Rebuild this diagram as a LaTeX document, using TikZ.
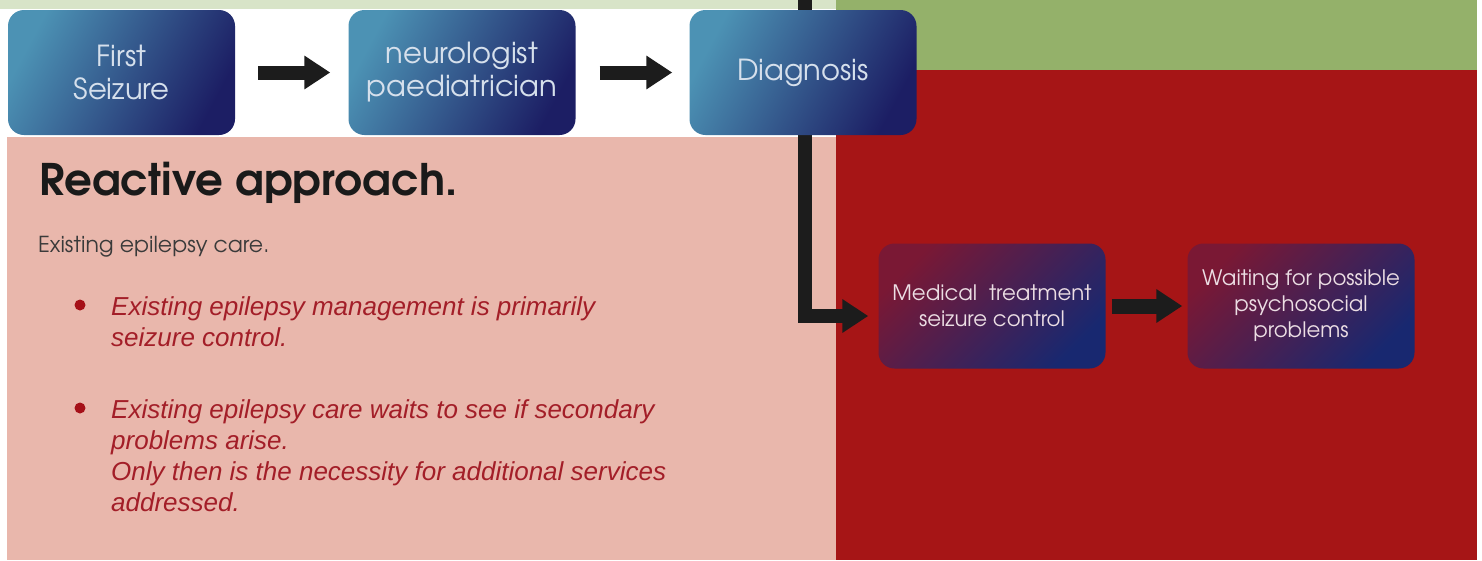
\documentclass[tikz,border=0pt]{standalone}
\usepackage{fontspec}
\setmainfont{Liberation Sans}
\newfontfamily\gothic{TeX Gyre Adventor}
\usetikzlibrary{arrows.meta,calc}

\definecolor{pinkbg}{RGB}{233,183,172}
\definecolor{palegreen}{RGB}{216,228,200}
\definecolor{greenbg}{RGB}{148,177,106}
\definecolor{redbg}{RGB}{166,21,22}
\definecolor{tealtop}{RGB}{76,146,180}
\definecolor{navytop}{RGB}{28,30,100}
\definecolor{maroonlow}{RGB}{122,24,52}
\definecolor{navylow}{RGB}{24,40,112}
\definecolor{boxtext}{RGB}{214,224,236}
\definecolor{boxtextlow}{RGB}{236,222,228}
\definecolor{bullettext}{RGB}{163,30,40}
\definecolor{bulletdot}{RGB}{165,16,24}
\definecolor{arrowblack}{RGB}{28,28,28}
\definecolor{headtext}{RGB}{26,26,26}
\definecolor{subtext}{RGB}{58,58,58}

\tikzset{
  flowbox/.style={rounded corners=16pt, minimum width=227pt, minimum height=125pt,
    inner sep=0pt, align=center},
  topbox/.style={flowbox, top color=tealtop, bottom color=navytop, shading angle=62,
    text=boxtext, font=\gothic\fontsize{29}{33}\selectfont},
  lowbox/.style={flowbox, top color=maroonlow, bottom color=navylow, shading angle=45,
    text=boxtextlow, font=\gothic\fontsize{21.3}{26}\selectfont},
  fatarrow/.style={draw=arrowblack, line width=14pt,
    -{Triangle[width=32pt,length=26pt]}},
  bullettxt/.style={anchor=base west, inner sep=0pt, align=left, text=bullettext,
    font=\itshape\fontsize{26}{31}\selectfont},
  dot/.style={circle, fill=bulletdot, inner sep=0pt, minimum size=11pt}
}

\begin{document}
\begin{tikzpicture}[x=1pt, y=-1pt]
  \useasboundingbox (0,0) rectangle (1482,560);

  % background panels
  \fill[white] (0,0) rectangle (1482,560);
  \fill[palegreen] (0,0) rectangle (836,9);
  \fill[pinkbg] (7,137) rectangle (836,560);
  \fill[greenbg] (836,0) rectangle (1477,70);
  \fill[redbg] (836,70) rectangle (1477,560);

  % lower flow
  \node[lowbox] (med) at (992,306) {Medical\ \ treatment\\seizure control};
  \node[lowbox] (wait) at (1301,306) {Waiting for possible\\psychosocial\\problems};
  \draw[fatarrow, line width=15pt, shorten <=6pt, shorten >=5pt] (med) -- (wait);

  % trunk from the top down into the treatment box
  \coordinate (trunk) at (805,0);
  \coordinate (medin) at ($(med.west)+(-10,10)$);
  \draw[fatarrow] (trunk) |- (medin);

  % upper flow
  \node[topbox] (first) at (121.5,72.5) {First\\Seizure};
  \node[topbox] (neuro) at (462,72.5) {neurologist\\paediatrician};
  \node[topbox] (diag) at (803,72.5) {Diagnosis};
  \draw[fatarrow, shorten <=23pt, shorten >=18pt] (first) -- (neuro);
  \draw[fatarrow, shorten <=24pt, shorten >=17pt] (neuro) -- (diag);

  % text panel (multi-line nodes are placed by the baseline of their last line)
  \node[anchor=base west, inner sep=0pt, text=headtext,
        font=\gothic\bfseries\fontsize{43.5}{48}\selectfont] (title) at (39,195) {Reactive approach.};
  \node[anchor=base west, inner sep=0pt, text=subtext,
        font=\gothic\fontsize{22}{25}\selectfont] (sub) at (38,252) {Existing epilepsy care.};

  \node[dot] (b1) at (80,305) {};
  \node[bullettxt] (t1) at (111,346) {Existing epilepsy management is primarily\\seizure control.};
  \node[dot] (b2) at (80,408) {};
  \node[bullettxt] (t2) at (111,511) {Existing epilepsy care waits to see if secondary\\problems arise.\\Only then is the necessity for additional services\\addressed.};
\end{tikzpicture}
\end{document}
